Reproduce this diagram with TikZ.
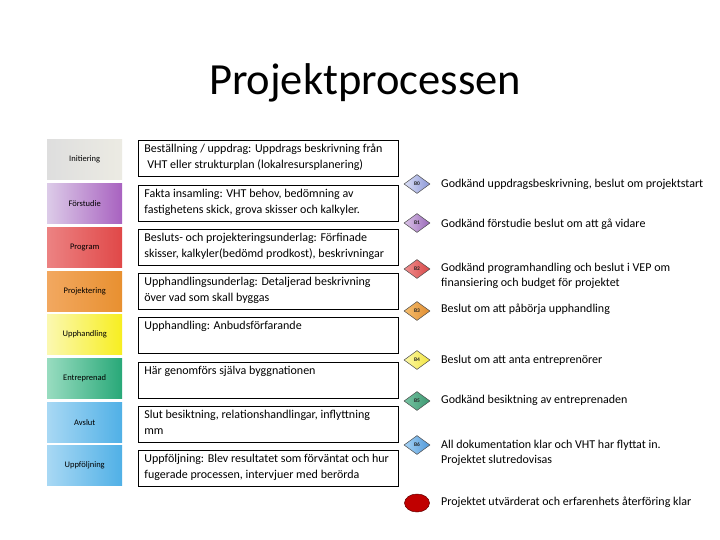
\documentclass[tikz,border=0pt]{standalone}
\usepackage{fontspec}
\setmainfont{Carlito}
\usetikzlibrary{shapes.geometric}
\definecolor{iniL}{HTML}{DEDEDE}\definecolor{iniR}{HTML}{ECEBE3}
\definecolor{forL}{HTML}{DCCBE8}\definecolor{forR}{HTML}{A862C0}
\definecolor{proL}{HTML}{EC8282}\definecolor{proR}{HTML}{E04848}
\definecolor{pjL}{HTML}{F2A860}\definecolor{pjR}{HTML}{E89030}
\definecolor{upL}{HTML}{FBF8B0}\definecolor{upR}{HTML}{F7EE20}
\definecolor{enL}{HTML}{98DCC0}\definecolor{enR}{HTML}{28A878}
\definecolor{avL}{HTML}{A8D8F4}\definecolor{avR}{HTML}{50B0E6}
\definecolor{dAL}{HTML}{DCE0F6}\definecolor{dAR}{HTML}{8C98D8}
\definecolor{dBL}{HTML}{DCC4E8}\definecolor{dBR}{HTML}{9868B8}
\definecolor{dCL}{HTML}{F09090}\definecolor{dCR}{HTML}{D84848}
\definecolor{dDL}{HTML}{F6C070}\definecolor{dDR}{HTML}{E08C30}
\definecolor{dEL}{HTML}{FCF8A8}\definecolor{dER}{HTML}{F2E440}
\definecolor{dFL}{HTML}{78C4A4}\definecolor{dFR}{HTML}{3C9870}
\definecolor{dGL}{HTML}{A8D4F6}\definecolor{dGR}{HTML}{5098D8}
\definecolor{redend}{HTML}{C00000}
\begin{document}
\begin{tikzpicture}[x=1pt,y=-1pt,
  phase/.style={rectangle, minimum width=75pt, minimum height=40pt, inner sep=0pt, anchor=north west, font=\fontsize{8.5}{9}\selectfont},
  midbox/.style={rectangle, draw=black, line width=0.8pt, anchor=north west, inner xsep=6pt, inner ysep=4pt, font=\fontsize{12}{15.5}\selectfont},
  gate/.style={diamond, draw=black!70, line width=0.5pt, minimum width=26pt, minimum height=19pt, inner sep=0pt, font=\fontsize{5.5}{5.5}\selectfont\bfseries, text=black!85},
  desc/.style={anchor=west, align=left, inner sep=0pt, font=\fontsize{12}{15.5}\selectfont}
]
\useasboundingbox (0,0) rectangle (720,540);
\fill[white] (0,0) rectangle (720,540);

\node[font=\fontsize{44.5}{48}\selectfont] (title) at (365,83) {Projektprocessen};

% phase boxes
\node[phase, left color=iniL, right color=iniR] (p1) at (47,139) {Initiering};
\node[phase, left color=forL, right color=forR] (p2) at (47,183) {Förstudie};
\node[phase, left color=proL, right color=proR] (p3) at (47,227) {Program};
\node[phase, left color=pjL, right color=pjR] (p4) at (47,271) {Projektering};
\node[phase, left color=upL, right color=upR] (p5) at (47,314) {Upphandling};
\node[phase, left color=enL, right color=enR] (p6) at (47,358) {Entreprenad};
\node[phase, left color=avL, right color=avR] (p7) at (47,402) {Avslut};
\node[phase, left color=avL, right color=avR] (p8) at (47,445) {Uppföljning};

% middle boxes
\newcommand{\mtext}[1]{\parbox[t][28pt][t]{248pt}{#1}}
\node[midbox] (m1) at (138,140) {\mtext{Beställning / uppdrag: Uppdrags beskrivning från\\\hspace*{3pt}VHT eller strukturplan (lokalresursplanering)}};
\node[midbox] (m2) at (138,185) {\mtext{Fakta insamling: VHT behov, bedömning av\\fastighetens skick, grova skisser och kalkyler.}};
\node[midbox] (m3) at (138,229) {\mtext{Besluts- och projekteringsunderlag: Förfinade\\skisser, kalkyler(bedömd prodkost), beskrivningar}};
\node[midbox] (m4) at (138,273) {\mtext{Upphandlingsunderlag: Detaljerad beskrivning\\över vad som skall byggas}};
\node[midbox] (m5) at (138,317) {\mtext{Upphandling: Anbudsförfarande}};
\node[midbox] (m6) at (138,362) {\mtext{Här genomförs själva byggnationen}};
\node[midbox] (m7) at (138,406) {\mtext{Slut besiktning, relationshandlingar, inflyttning\\mm}};
\node[midbox] (m8) at (138,450) {\mtext{Uppföljning: Blev resultatet som förväntat och hur\\fugerade processen, intervjuer med berörda}};

% gates
\node[gate, left color=dAL, right color=dAR] (g0) at (417,184) {B0};
\node[gate, left color=dBL, right color=dBR] (g1) at (417,223) {B1};
\node[gate, left color=dCL, right color=dCR] (g2) at (417,269) {B2};
\node[gate, left color=dDL, right color=dDR] (g3) at (417,311) {B3};
\node[gate, left color=dEL, right color=dER] (g4) at (417,360) {B4};
\node[gate, left color=dFL, right color=dFR] (g5) at (417,401) {B5};
\node[gate, left color=dGL, right color=dGR] (g6) at (417,445) {B6};
\node[ellipse, fill=redend, draw=red!40!black, line width=0.5pt, minimum width=25pt, minimum height=18pt, inner sep=0pt] (g7) at (417,503) {};

% descriptions
\node[desc] (d0) at (441,184) {Godkänd uppdragsbeskrivning, beslut om projektstart};
\node[desc] (d1) at (441,224) {Godkänd förstudie beslut om att gå vidare};
\node[desc] (d2) at (441,276) {Godkänd programhandling och beslut i VEP om\\finansiering och budget för projektet};
\node[desc] (d3) at (441,309) {Beslut om att påbörja upphandling};
\node[desc] (d4) at (441,360) {Beslut om att anta entreprenörer};
\node[desc] (d5) at (441,400) {Godkänd besiktning av entreprenaden};
\node[desc] (d6) at (441,453) {All dokumentation klar och VHT har flyttat in.\\Projektet slutredovisas};
\node[desc] (d7) at (441,502) {Projektet utvärderat och erfarenhets återföring klar};
\end{tikzpicture}
\end{document}
